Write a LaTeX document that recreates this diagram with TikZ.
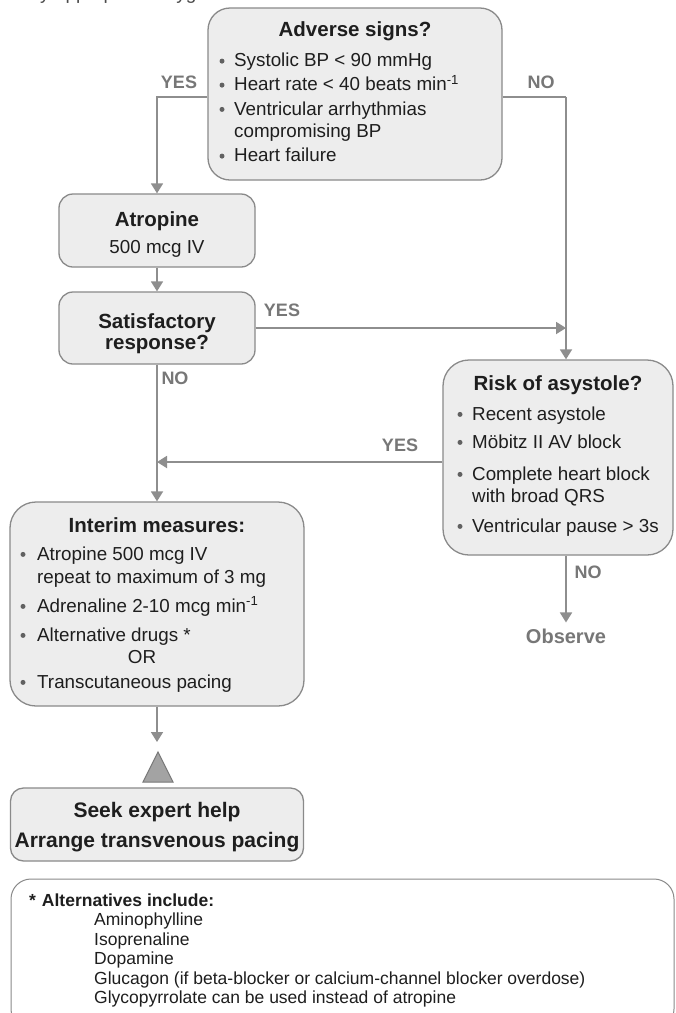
\documentclass[tikz,border=0pt]{standalone}
\usepackage{fontspec}
\setmainfont{Liberation Sans}
\usetikzlibrary{arrows.meta}

\definecolor{boxfill}{HTML}{EDEDED}
\definecolor{boxline}{HTML}{8A8A8A}
\definecolor{flowgray}{HTML}{8E8E8E}
\definecolor{labelgray}{HTML}{777777}
\definecolor{ink}{HTML}{1E1E1E}
\definecolor{trifill}{HTML}{A3A3A3}

\tikzset{
  box/.style={draw=boxline, fill=boxfill, line width=1.3pt, inner sep=0pt},
  flow/.style={draw=flowgray, line width=1.8pt,
    -{Triangle[length=10pt,width=12pt]}},
  plainline/.style={draw=flowgray, line width=1.8pt},
  title/.style={anchor=base, inner sep=0pt, text=ink,
    font=\bfseries\fontsize{20.5}{24}\selectfont},
  body/.style={anchor=base west, inner sep=0pt, text=ink,
    font=\fontsize{18.8}{22}\selectfont},
  bodyc/.style={anchor=base, inner sep=0pt, text=ink,
    font=\fontsize{18.8}{22}\selectfont},
  answer/.style={anchor=center, inner sep=0pt, text=labelgray,
    font=\bfseries\fontsize{18}{20}\selectfont},
  note/.style={anchor=base west, inner sep=0pt, text=ink,
    font=\fontsize{17.5}{20}\selectfont},
  notetitle/.style={anchor=base west, inner sep=0pt, text=ink,
    font=\bfseries\fontsize{17.5}{20}\selectfont},
  dot/.style={fill=ink!70},
}

\begin{document}
\begin{tikzpicture}[x=1pt,y=-1pt]
\useasboundingbox (0,0) rectangle (676,1013);
\clip (0,0) rectangle (676,1013);
\fill[white] (0,0) rectangle (676,1013);

% running text of the page, cut at the top edge
\node[anchor=base west, inner sep=0pt, text=ink!80,
  font=\fontsize{19}{22}\selectfont] (pagetext) at (40,-1) {y appropriate oxygen};

% ---------- boxes ----------
\node[box, rounded corners=22pt, minimum width=294pt, minimum height=172pt]
  (adverse) at (355,94) {};
\node[box, rounded corners=14pt, minimum width=196pt, minimum height=73pt]
  (atropine) at (157,230.5) {};
\node[box, rounded corners=14pt, minimum width=196pt, minimum height=72pt]
  (satis) at (157,328) {};
\node[box, rounded corners=26pt, minimum width=230pt, minimum height=195pt]
  (risk) at (558,457.5) {};
\node[box, rounded corners=26pt, minimum width=294pt, minimum height=204pt]
  (interim) at (157,604) {};
\node[box, rounded corners=13pt, minimum width=293pt, minimum height=73pt]
  (seek) at (157,824.5) {};
\node[box, fill=white, line width=1pt, rounded corners=20pt,
  minimum width=663pt, minimum height=150pt]
  (alts) at (342.5,954) {};

% ---------- texts: adverse signs ----------
\node[title] (advT) at (355,36.7) {Adverse signs?};
\foreach \yy/\txt [count=\i] in {66.7/{Systolic BP < 90 mmHg},
    90.7/{Heart rate < 40 beats min\textsuperscript{-1}},
    115/{Ventricular arrhythmias},
    161.7/{Heart failure}}{
  \node[body] (adv\i) at (234,\yy) {\txt};
}
\node[body] (adv5) at (234,137.3) {compromising BP};
\foreach \yy in {66.7,90.7,115,161.7}{\fill[dot] (222,\yy-5.6) circle (2.5pt);}

% ---------- atropine / response ----------
\node[title] (atrT) at (157,226) {Atropine};
\node[bodyc] (atrD) at (157,253) {500 mcg IV};
\node[title] (satT1) at (157,328) {Satisfactory};
\node[title] (satT2) at (157,349.5) {response?};

% ---------- risk of asystole ----------
\node[title] (riskT) at (558,390) {Risk of asystole?};
\node[body] (risk1) at (472,420) {Recent asystole};
\node[body] (risk2) at (472,448) {Möbitz II AV block};
\node[body] (risk3) at (472,480) {Complete heart block};
\node[body] (risk4) at (472,502) {with broad QRS};
\node[body] (risk5) at (472,532) {Ventricular pause > 3s};
\foreach \yy in {420,448,480,532}{\fill[dot] (460,\yy-5.6) circle (2.5pt);}

% ---------- interim measures ----------
\node[title] (intT) at (157,532) {Interim measures:};
\node[body] (int1) at (37,560) {Atropine 500 mcg IV};
\node[body] (int2) at (37,583) {repeat to maximum of 3 mg};
\node[body] (int3) at (37,612) {Adrenaline 2-10 mcg min\textsuperscript{-1}};
\node[body] (int4) at (37,641) {Alternative drugs *};
\node[bodyc] (int5) at (142,663) {OR};
\node[body] (int6) at (37,688) {Transcutaneous pacing};
\foreach \yy in {560,612,641,688}{\fill[dot] (23,\yy-5.6) circle (2.5pt);}

% ---------- expert help ----------
\node[title, font=\bfseries\fontsize{21}{24}\selectfont] (seekT1) at (157,817) {Seek expert help};
\node[title, font=\bfseries\fontsize{21}{24}\selectfont] (seekT2) at (157,847) {Arrange transvenous pacing};

% ---------- alternatives note ----------
\node[notetitle] (altT) at (29,906.7) {*\hspace{6pt}Alternatives include:};
\node[note] (alt1) at (94,925.5) {Aminophylline};
\node[note] (alt2) at (94,945) {Isoprenaline};
\node[note] (alt3) at (94,964.5) {Dopamine};
\node[note] (alt4) at (94,984) {Glucagon (if beta-blocker or calcium-channel blocker overdose)};
\node[note] (alt5) at (94,1003.5) {Glycopyrrolate can be used instead of atropine};

% ---------- answers ----------
\node[answer] (yes1) at (179,82) {YES};
\node[answer] (no1) at (541,82) {NO};
\node[answer] (yes2) at (282,310) {YES};
\node[answer] (no2) at (175,378) {NO};
\node[answer] (yes3) at (400,445) {YES};
\node[answer] (no3) at (588,572) {NO};
\node[anchor=center, inner sep=0pt, text=labelgray,
  font=\bfseries\fontsize{20}{22}\selectfont] (observe) at (566,636) {Observe};

% ---------- connectors ----------
\coordinate (yesTurn) at (157,97);
\coordinate (noTurn) at (566,97);
\coordinate (yesJoin) at (157,462);
\coordinate (intoTri) at (157,742);

\draw[flow] (adverse.west |- yesTurn) -- (yesTurn) -- (atropine.north);
\draw[plainline] (adverse.east |- noTurn) -- (noTurn);
\draw[flow] (noTurn) -- (noTurn |- risk.north);
\draw[flow] (atropine.south) -- (satis.north);
\draw[flow] (satis.east) -- (satis.east -| noTurn);
\draw[flow] (satis.south) -- (interim.north);
\draw[flow] (risk.west |- yesJoin) -- (yesJoin);
\draw[flow] (risk.south -| noTurn) -- ([yshift=6pt]observe.north);
\draw[flow] (interim.south) -- (intoTri);

% warning triangle above the expert box
\filldraw[fill=trifill, draw=labelgray, line width=1pt]
  (143,782) -- (158,752) -- (173,782) -- cycle;
\end{tikzpicture}
\end{document}
